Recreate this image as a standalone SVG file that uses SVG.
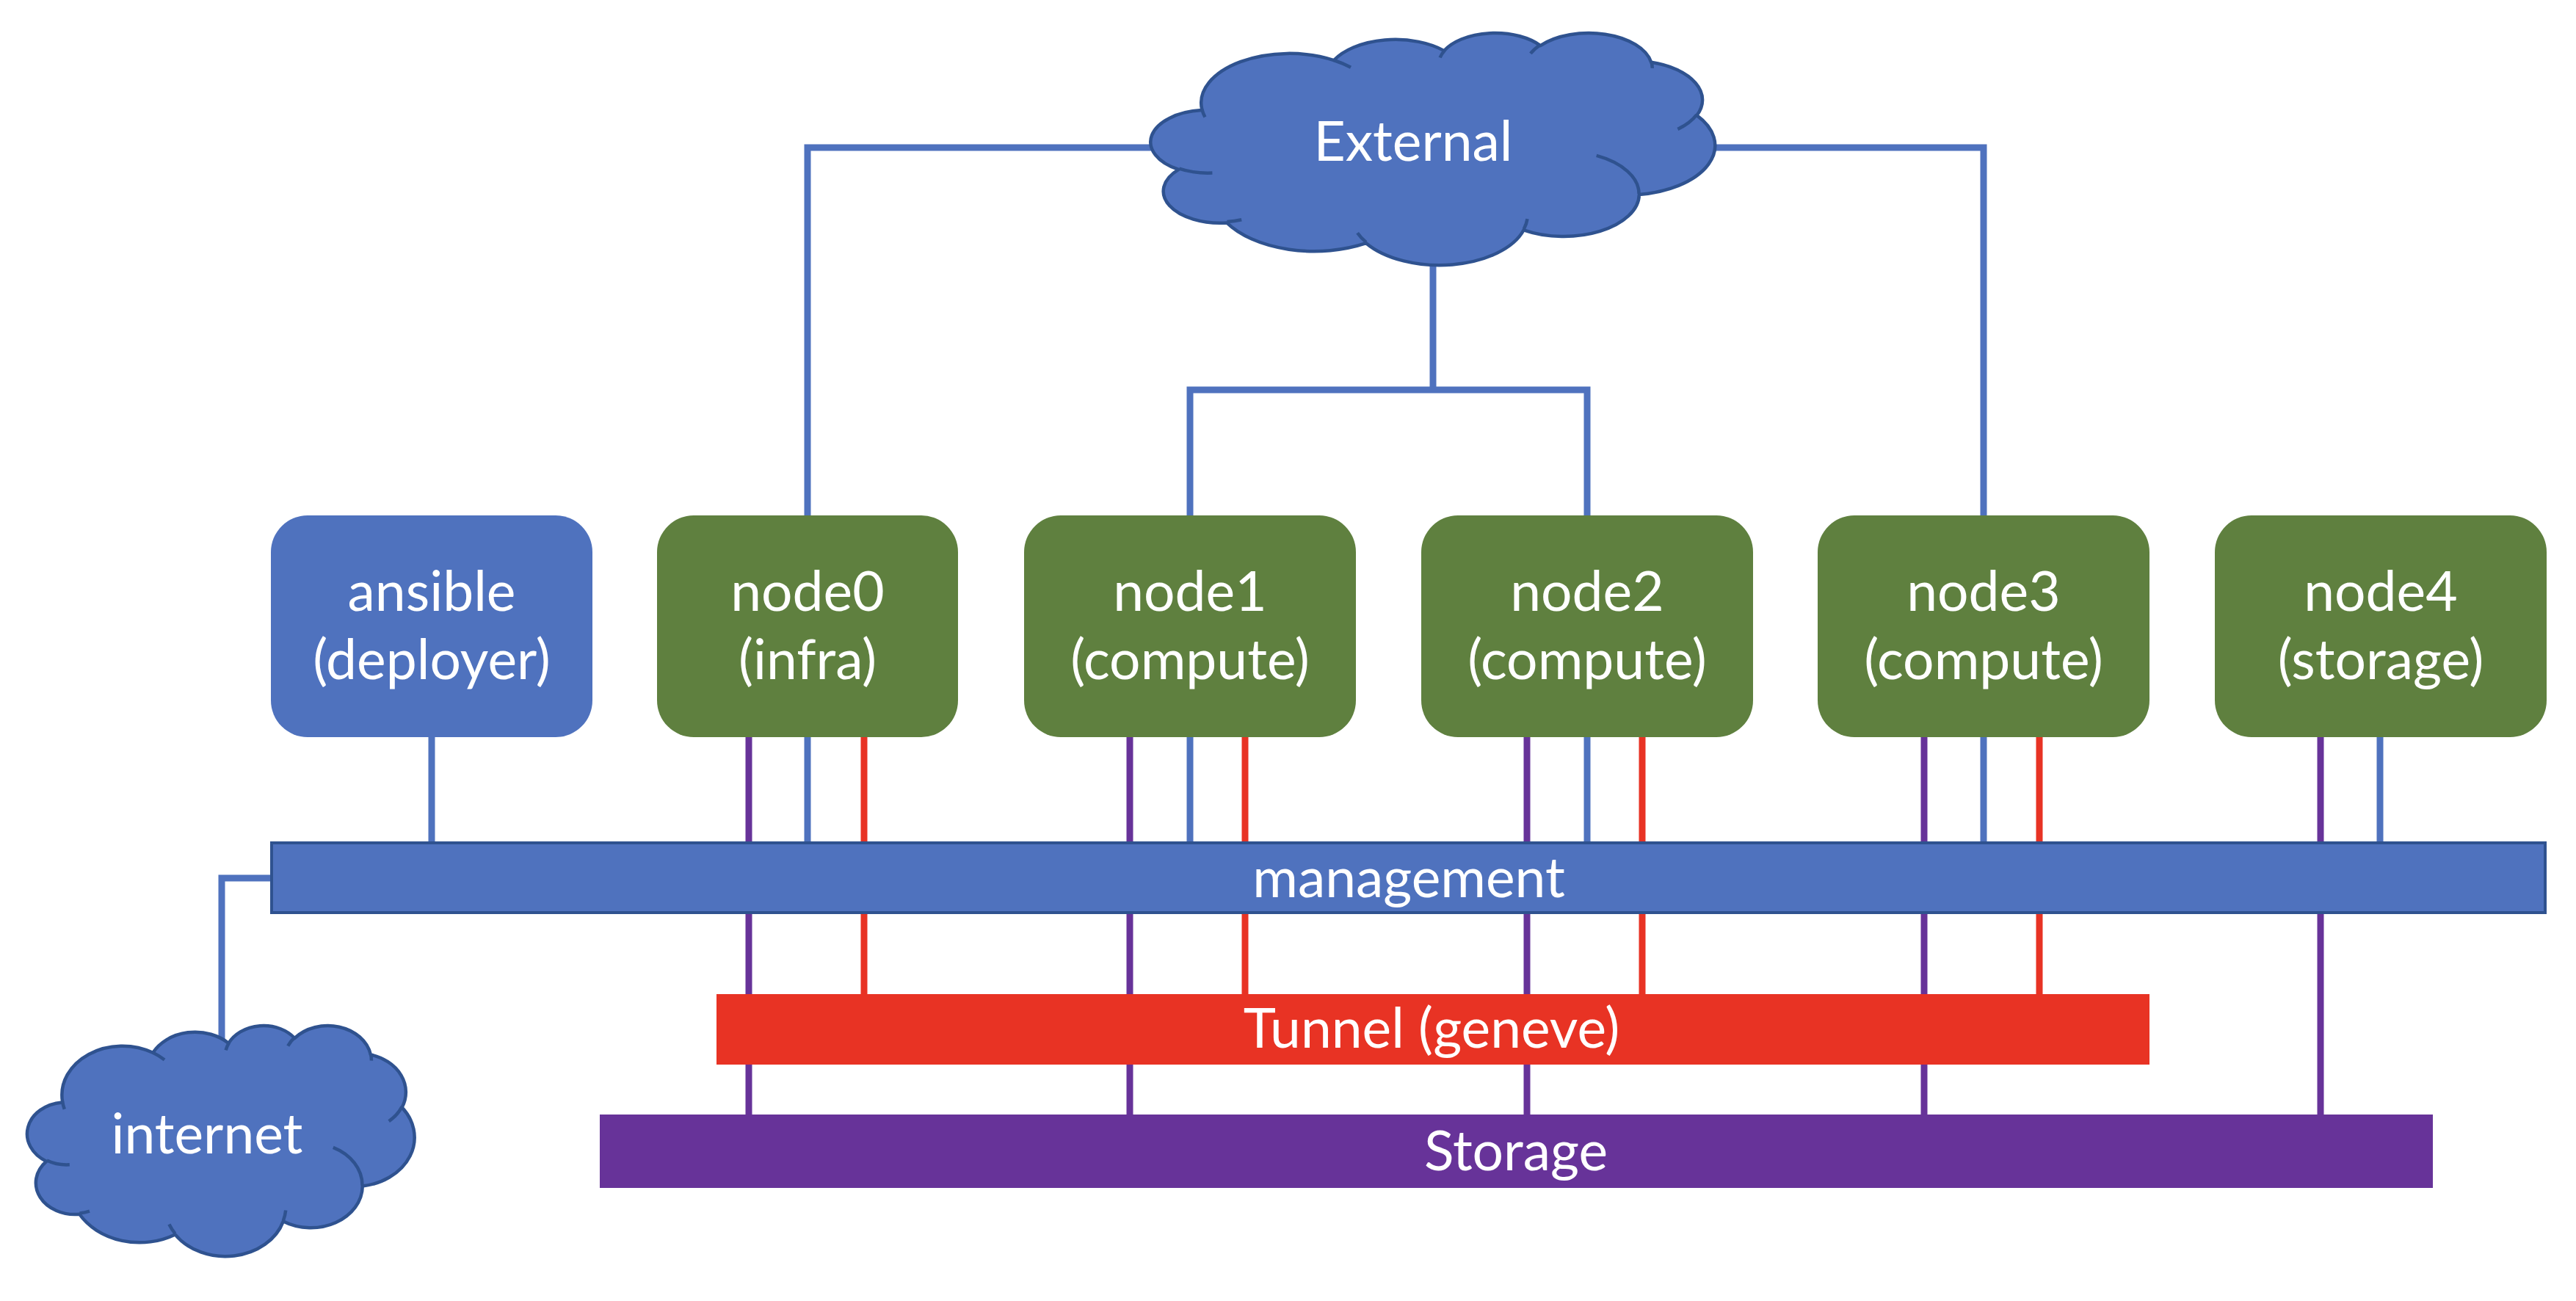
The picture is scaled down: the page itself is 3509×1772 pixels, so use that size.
<svg xmlns="http://www.w3.org/2000/svg" width="3509" height="1772" viewBox="0 0 3509 1772">
<style>
  .bg { fill: #ffffff; }
  .ln { fill: none; stroke-width: 9; stroke-linejoin: miter; stroke-linecap: butt; }
  .lb { stroke: #4F72BE; }
  .lp { stroke: #673399; }
  .lr { stroke: #E83324; }
  .box-blue { fill: #4F72BE; }
  .box-green { fill: #5F803F; }
  .cloud { fill: #4F72BE; stroke: #2F528F; stroke-width: 4.5; stroke-linejoin: round; }
  .cloud-in { fill: none; stroke: #2F528F; stroke-width: 4.5; stroke-linecap: butt; }
  .bar-mgmt { fill: #4F72BE; stroke: #2F528F; stroke-width: 4; }
  .bar-tun { fill: #E83324; }
  .bar-sto { fill: #673399; }
  .t { font-family: Lato, "Open Sans", "Liberation Sans", sans-serif; font-size: 75px; fill: #ffffff; text-anchor: middle; }
</style>
<rect class="bg" x="0" y="0" width="3509" height="1772"/>

<g id="connectors">
  <path class="ln lb" d="M588,1004 V1150"/>
  <path class="ln lb" d="M1100,702 V201 H1600"/>
  <path class="ln lb" d="M1100,1004 V1150"/>
  <path class="ln lb" d="M1952,340 V531"/>
  <path class="ln lb" d="M1621,702 V531 H2162 V702"/>
  <path class="ln lb" d="M1621,1004 V1150"/>
  <path class="ln lb" d="M2162,1004 V1150"/>
  <path class="ln lb" d="M2702,702 V201 H2300"/>
  <path class="ln lb" d="M2702,1004 V1150"/>
  <path class="ln lb" d="M3242,1004 V1150"/>
  <path class="ln lb" d="M374,1196 H302 V1426"/>
  <path class="ln lp" d="M1020,1004 V1520"/>
  <path class="ln lp" d="M1539,1004 V1520"/>
  <path class="ln lp" d="M2080,1004 V1520"/>
  <path class="ln lp" d="M2621,1004 V1520"/>
  <path class="ln lp" d="M3161,1004 V1520"/>
  <path class="ln lr" d="M1177,1004 V1356"/>
  <path class="ln lr" d="M1696,1004 V1356"/>
  <path class="ln lr" d="M2237,1004 V1356"/>
  <path class="ln lr" d="M2778,1004 V1356"/>
</g>

<g id="management">
  <rect class="bar-mgmt" x="370" y="1148" width="3097" height="95"/>
  <text class="t" x="1919" y="1222">management</text>
</g>

<g id="tunnel">
  <rect class="bar-tun" x="976" y="1354" width="1952" height="96"/>
  <text class="t" x="1950" y="1427">Tunnel (geneve)</text>
</g>

<g id="storage">
  <rect class="bar-sto" x="817" y="1518" width="2497" height="100"/>
  <text class="t" x="2065" y="1594">Storage</text>
</g>

<g id="external">
  <path class="cloud" d="M1637.3,149.1 A120.05,67.22 0 0 1 1817.0,82.1 A94.81,53.16 0 0 1 1967.2,69.1 A77.60,43.49 0 0 1 2098.3,62.1 A86.35,48.24 0 0 1 2249.2,84.8 A94.81,53.20 0 0 1 2311.4,157.1 A120.44,67.44 0 0 1 2232.9,264.9 A102.84,57.55 0 0 1 2075.6,313.3 A120.04,67.41 0 0 1 1860.9,331.2 A137.24,77.12 0 0 1 1671.2,303.4 A77.51,43.29 0 0 1 1605.5,230.9 A77.24,43.49 0 0 1 1636.7,150.1 Z"/>
  <path class="cloud-in" d="M1651.4,235.5 A77.24,43.49 0 0 1 1606.3,229.6 M1691.2,299.3 A77.51,43.29 0 0 1 1671.5,302.1 M1860.9,329.9 A120.04,67.41 0 0 1 1849.1,317.2 M2080.5,298.2 A120.04,67.41 0 0 1 2075.7,312.2 M2174.7,211.9 A102.84,57.55 0 0 1 2232.5,264.1 M2311.1,156.3 A94.81,53.20 0 0 1 2285.4,175.9 M2249.3,83.7 A86.35,48.24 0 0 1 2250.7,92.9 M2084.9,72.9 A86.35,48.24 0 0 1 2098.1,61.1 M1961.6,78.5 A77.60,43.49 0 0 1 1968.0,68.4 M1816.9,82.0 A120.05,67.22 0 0 1 1840.0,91.8 M1641.4,159.5 A120.05,67.22 0 0 1 1637.4,149.1"/>
  <text class="t" x="1925" y="219">External</text>
</g>

<g id="internet">
  <path class="cloud" d="M85.1,1500.4 A82.38,66.80 0 0 1 208.3,1433.8 A65.06,52.82 0 0 1 311.4,1420.9 A53.25,43.21 0 0 1 401.4,1414.0 A59.25,47.94 0 0 1 504.9,1436.5 A65.06,52.86 0 0 1 547.6,1508.4 A82.65,67.02 0 0 1 493.8,1615.5 A70.57,57.18 0 0 1 385.8,1663.6 A82.37,66.98 0 0 1 238.5,1681.4 A94.18,76.63 0 0 1 108.3,1653.8 A53.19,43.01 0 0 1 63.2,1581.7 A53.00,43.21 0 0 1 84.6,1501.4 Z"/>
  <path class="cloud-in" d="M94.8,1586.3 A53.00,43.21 0 0 1 63.8,1580.5 M122.0,1649.7 A53.19,43.01 0 0 1 108.5,1652.4 M238.5,1680.1 A82.37,66.98 0 0 1 230.4,1667.5 M389.2,1648.6 A82.37,66.98 0 0 1 385.9,1662.5 M453.8,1562.8 A70.57,57.18 0 0 1 493.5,1614.7 M547.4,1507.6 A65.06,52.86 0 0 1 529.7,1527.1 M505.0,1435.4 A59.25,47.94 0 0 1 505.9,1444.6 M392.2,1424.7 A59.25,47.94 0 0 1 401.3,1413.0 M307.6,1430.3 A53.25,43.21 0 0 1 312.0,1420.2 M208.3,1433.7 A82.38,66.80 0 0 1 224.1,1443.5 M87.8,1510.8 A82.38,66.80 0 0 1 85.1,1500.4"/>
  <text class="t" x="282" y="1571">internet</text>
</g>

<g id="ansible">
  <rect class="box-blue" x="369" y="702" width="438" height="302" rx="50" ry="50"/>
  <text class="t" x="588" y="832">ansible</text>
  <text class="t" x="588" y="925">(deployer)</text>
</g>

<g id="node0">
  <rect class="box-green" x="895" y="702" width="410" height="302" rx="50" ry="50"/>
  <text class="t" x="1100" y="832">node0</text>
  <text class="t" x="1100" y="925">(infra)</text>
</g>

<g id="node1">
  <rect class="box-green" x="1395" y="702" width="452" height="302" rx="50" ry="50"/>
  <text class="t" x="1621" y="832">node1</text>
  <text class="t" x="1621" y="925">(compute)</text>
</g>

<g id="node2">
  <rect class="box-green" x="1936" y="702" width="452" height="302" rx="50" ry="50"/>
  <text class="t" x="2162" y="832">node2</text>
  <text class="t" x="2162" y="925">(compute)</text>
</g>

<g id="node3">
  <rect class="box-green" x="2476" y="702" width="452" height="302" rx="50" ry="50"/>
  <text class="t" x="2702" y="832">node3</text>
  <text class="t" x="2702" y="925">(compute)</text>
</g>

<g id="node4">
  <rect class="box-green" x="3017" y="702" width="452" height="302" rx="50" ry="50"/>
  <text class="t" x="3243" y="832">node4</text>
  <text class="t" x="3243" y="925">(storage)</text>
</g>
</svg>
